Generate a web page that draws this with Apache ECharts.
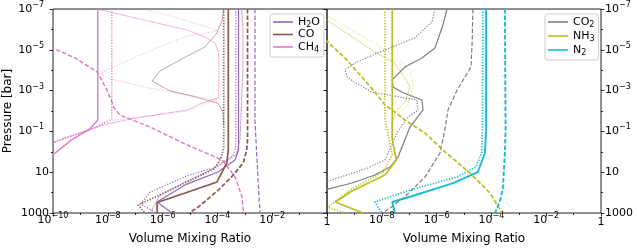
<!DOCTYPE html>
<html><head><meta charset="utf-8">
<script src="https://cdn.jsdelivr.net/npm/echarts@6/dist/echarts.min.js"></script>
<style>html,body{margin:0;padding:0;background:#fff}#c{width:639px;height:250px}</style>
</head><body><div id="c"></div>
<script>
// ---- data: [volume mixing ratio, pressure (bar)] ----
// left panel
const h2oSolid = [[5.9e-4,1e-7],[5.9e-4,0.82],[4.4e-4,2.5],[1.05e-4,9.8],[6.6e-6,42],[6.3e-7,290],[2.2e-6,1000]];
const h2oDotted = [[4.7e-4,1e-7],[4.7e-4,0.52],[3.7e-4,1.6],[6.9e-5,6.2],[7.8e-6,15],[3.5e-7,94],[1.6e-7,360],[5.7e-7,1000]];
const h2oDashed = [[2.35e-3,1e-7],[2.35e-3,2.8e-2],[2.7e-3,1.15],[3.4e-3,320],[3.6e-3,1000]];
const h2oSolidAlt = [[7.6e-4,1e-7],[8.6e-4,1.07e-6],[8.6e-4,9.8e-5],[7.6e-4,2.9e-3],[6.7e-4,0.26],[4.8e-4,1.4],[8.2e-5,6.2],[6.6e-6,30],[8.0e-7,131],[3.5e-7,1000]];

const coSolid = [[2.5e-4,1e-7],[2.5e-4,0.82],[2.2e-4,3.5],[9.7e-5,30],[6.6e-6,105],[6.3e-7,305],[6.3e-7,1000]];
const coDotted = [[1.7e-4,1e-7],[1.7e-4,0.65],[1.35e-4,2.0],[7.5e-5,7.0],[7.8e-6,30],[8.0e-7,131],[1.26e-7,405],[2.3e-7,1000]];
const coDashed = [[1.26e-3,1e-7],[1.26e-3,0.26],[1.17e-3,0.82],[8.8e-4,3.5],[3.3e-4,17],[1.08e-4,75],[2.0e-5,510],[9.2e-6,1000]];
const coSolidAlt = [[1.7e-4,1e-7],[1.5e-4,3.5e-7],[9.7e-5,1.5e-6],[3.5e-5,7.3e-6],[6.6e-6,2.3e-5],[8.0e-7,1.1e-4],[4.1e-7,3.4e-4],[1.9e-6,1.05e-3],[7.8e-6,1.6e-3],[1.05e-4,4.1e-3],[1.6e-4,1.1e-2],[1.7e-4,5e-2]];

const ch4Solid = [[4.3e-9,1e-7],[4.3e-9,2.8e-2],[2.2e-9,7.6e-2],[4.8e-10,0.26],[1.2e-10,1.15],[7.8e-11,1.8]];
const ch4Dotted = [[1.4e-8,1e-7],[1.4e-8,2.5e-2],[2.2e-9,8.5e-2],[1e-10,0.35],[6.6e-11,0.44]];
const ch4Dashed = [[7.8e-11,7.3e-6],[1e-10,8.4e-6],[6.4e-10,2.5e-5],[4.0e-9,1.2e-4],[9.4e-9,9.4e-4],[1.7e-8,7.1e-3],[2.8e-8,1.6e-2],[3.5e-7,6.1e-2],[7.8e-6,0.46],[1.5e-4,2.5],[4.4e-4,17],[7.9e-4,160],[9.0e-4,1000]];
const ch4SolidAlt = [[4.0e-9,1e-7],[7.8e-6,1.07e-6],[3.5e-5,2.4e-6],[8.2e-5,4.6e-6],[1.1e-4,1.3e-5],[1.14e-4,9.8e-5],[1.1e-4,2.3e-3],[2.3e-5,4.5e-3],[7.8e-6,8.9e-3],[6.5e-8,2.5e-2],[6.7e-9,4.9e-2],[3.2e-10,0.19],[1e-10,0.37],[6e-11,0.45]];
const ch4DottedAlt = [[1.9e-7,1e-7],[2.8e-6,2.5e-7],[4.2e-5,7.6e-7],[1.05e-4,1.2e-6],[7.8e-6,2.1e-6],[1.5e-7,1.8e-5],[5.2e-9,1.4e-4],[1.2e-8,2.7e-4],[3.5e-7,7.5e-4],[7.8e-6,1.6e-3],[9.7e-5,2.9e-3],[7.8e-6,1e-2],[1.8e-8,2.8e-2],[2.2e-9,8.5e-2],[1e-10,0.35]];

// right panel
const co2Solid = [[2.4e-6,1e-7],[1.7e-6,6.1e-7],[8.7e-7,8.2e-6],[2.9e-7,2.5e-5],[7.0e-8,7.0e-5],[2.4e-8,3.0e-4],[2.6e-8,6.7e-4],[5.5e-8,1.2e-3],[2.9e-7,2.9e-3],[3.2e-7,8.9e-3],[1.07e-7,6.1e-2],[3.9e-8,1.8],[2.0e-8,5.6],[5.6e-9,13.7],[8.2e-10,34],[1e-10,70],[5.6e-11,84]];
const co2Dotted = [[8.7e-7,1e-7],[6.8e-7,4.3e-7],[1.6e-7,2.6e-6],[7.3e-9,1.4e-5],[1.05e-9,4.4e-5],[4.5e-10,9.8e-5],[5.8e-10,2.4e-4],[4.4e-9,1.2e-3],[1.9e-7,2.9e-3],[2.1e-7,8.9e-3],[9.0e-8,2.0e-2],[3.6e-8,0.12],[1.3e-8,2.5],[3.1e-9,6.2],[1e-10,29],[5.6e-11,34]];
const co2Dashed = [[2.1e-5,1e-7],[2.0e-5,3.3e-6],[1.8e-5,7.0e-5],[5.6e-6,9.4e-4],[2.6e-6,8.9e-3],[2.0e-6,8.5e-2],[1.33e-6,1.15],[3.8e-7,17],[7.0e-8,160],[1.1e-8,1000]];

const nh3Solid = [[2.4e-8,1e-7],[2.4e-8,0.26],[3.4e-8,2.5],[1.3e-8,13.7],[8.2e-10,84],[2.0e-10,290],[2.1e-9,1000]];
const nh3Dotted = [[1.3e-8,1e-7],[1.3e-8,2.8e-2],[1.7e-8,0.15],[2.4e-8,1.4],[1.1e-8,9.8],[6.9e-10,75],[1.09e-10,510],[4.5e-10,1000]];
const nh3Dashed = [[5.6e-11,2.1e-6],[1e-10,3.9e-6],[4.5e-10,2.5e-5],[1.9e-9,2.2e-4],[5.6e-9,1.2e-3],[1.3e-8,5.1e-3],[2.4e-8,8.9e-3],[7.0e-8,2.8e-2],[3.8e-7,0.12],[1.7e-6,0.82],[1.65e-5,11],[8.9e-5,105],[2.1e-4,710],[2.4e-4,1000]];
const nh3SolidAlt = [[5.6e-11,2.2e-7],[1e-10,3.5e-7],[5.6e-9,1.3e-5],[3.0e-8,4.4e-5],[7.0e-8,2.4e-4],[1.07e-7,6.7e-4],[7.0e-8,3.6e-3],[3.0e-8,1.25e-2],[2.4e-8,4.9e-2],[2.4e-8,0.26]];
const nh3DottedAlt = [[5.6e-11,1.4e-7],[1e-10,2.2e-7],[7.3e-9,5.8e-6],[4.6e-8,3.2e-5],[1.07e-7,9.8e-5],[1.4e-7,5.3e-4],[9.0e-8,5.1e-3],[3.6e-8,1.6e-2],[1.55e-8,4.9e-2],[1.3e-8,0.1]];

const n2Solid = [[6.4e-5,1e-7],[6.4e-5,8.5e-2],[5.8e-5,1.15],[3.2e-5,9.8],[4.0e-6,34],[1.07e-7,160],[2.4e-8,290],[3.0e-8,1000]];
const n2Dotted = [[4.9e-5,1e-7],[4.7e-5,8.5e-2],[4.4e-5,1.15],[2.7e-5,5.6],[5.6e-6,17],[1.07e-7,75],[5.6e-9,290],[1.0e-8,1000]];
const n2Dashed = [[3.1e-4,1e-7],[3.3e-4,8.5e-2],[3.1e-4,1.15],[2.65e-4,53],[2.1e-4,230],[1.35e-4,1000]];

// ---- tick labels ----
const xTickExps = [-10,-8,-6,-4,-2,0];
const xTickLabels = [['10','−10'],['10','−8'],['10','−6'],['10','−4'],['10','−2'],['1','']];
const yTickExps = [-7,-5,-3,-1,1,3];
const yTickLabels = [['10','−7'],['10','−5'],['10','−3'],['10','−1'],['10',''],['1000','']];
const legendLeft = ['H2O','CO','CH4'];
const legendRight = ['CO2','NH3','N2'];
const legendText = {H2O:'{t|H}{s|2}{t|O}', CO:'{t|CO}', CH4:'{t|CH}{s|4}', CO2:'{t|CO}{s|2}', NH3:'{t|NH}{s|3}', N2:'{t|N}{s|2}'};

const C = {h2o:'#9467bd', co:'#8c564b', ch4:'#e377c2', co2:'#7f7f7f', nh3:'#bcbd22', n2:'#17becf'};
const W = {h2o:1.2, co:1.7, ch4:1.4, co2:1.2, nh3:1.7, n2:1.9};
const DASH = [4.5,2], DOT = [1.2,1.6];

const lines = [
  ['H2O', h2oSolid, 0, 'h2o', 'solid', false],
  ['H2O dotted', h2oDotted, 0, 'h2o', DOT, false],
  ['H2O dashed', h2oDashed, 0, 'h2o', DASH, false],
  ['H2O alt', h2oSolidAlt, 0, 'h2o', 'solid', true],
  ['CO', coSolid, 0, 'co', 'solid', false],
  ['CO dotted', coDotted, 0, 'co', DOT, false],
  ['CO dashed', coDashed, 0, 'co', DASH, false],
  ['CO alt', coSolidAlt, 0, 'co', 'solid', true],
  ['CH4', ch4Solid, 0, 'ch4', 'solid', false],
  ['CH4 dotted', ch4Dotted, 0, 'ch4', DOT, false],
  ['CH4 dashed', ch4Dashed, 0, 'ch4', DASH, false],
  ['CH4 alt', ch4SolidAlt, 0, 'ch4', 'solid', true],
  ['CH4 alt dotted', ch4DottedAlt, 0, 'ch4', DOT, true],
  ['CO2', co2Solid, 1, 'co2', 'solid', false],
  ['CO2 dotted', co2Dotted, 1, 'co2', DOT, false],
  ['CO2 dashed', co2Dashed, 1, 'co2', DASH, false],
  ['NH3', nh3Solid, 1, 'nh3', 'solid', false],
  ['NH3 dotted', nh3Dotted, 1, 'nh3', DOT, false],
  ['NH3 dashed', nh3Dashed, 1, 'nh3', DASH, false],
  ['NH3 alt', nh3SolidAlt, 1, 'nh3', 'solid', true],
  ['NH3 alt dotted', nh3DottedAlt, 1, 'nh3', DOT, true],
  ['N2', n2Solid, 1, 'n2', 'solid', false],
  ['N2 dotted', n2Dotted, 1, 'n2', DOT, false],
  ['N2 dashed', n2Dashed, 1, 'n2', DASH, false]
];

const FONT = 'DejaVu Sans';
const tickRich = {
  b: {fontFamily: FONT, fontSize: 11, lineHeight: 12, verticalAlign: 'middle', color: '#000'},
  bp: {fontFamily: FONT, fontSize: 11, lineHeight: 16, verticalAlign: 'middle', color: '#000'},
  s: {fontFamily: FONT, fontSize: 8, lineHeight: 8, verticalAlign: 'middle', color: '#000', padding: [0,0,8,0]},
  sp: {fontFamily: FONT, fontSize: 8, lineHeight: 8, verticalAlign: 'middle', color: '#000', padding: [0,5,8,0]}
};
function fmt(exps, labels, padSup) {
  return function (v) {
    const i = exps.indexOf(Math.round(v));
    if (i < 0) return '';
    const l = labels[i];
    return l[1] ? '{b|' + l[0] + '}{' + (padSup ? 'sp' : 's') + '|' + l[1] + '}' : '{bp|' + l[0] + '}';
  };
}
const tickLine = {color: '#000', width: 0.8};
function xAx(gi, showMin) {
  return {
    gridIndex: gi, type: 'value', position: 'bottom', min: -10, max: 0, interval: 2,
    axisLine: {show: false, onZero: false}, splitLine: {show: false},
    axisTick: {show: true, length: 3.5, lineStyle: tickLine},
    minorTick: {show: true, splitNumber: 2, length: 2, lineStyle: tickLine},
    axisLabel: {formatter: fmt(xTickExps, xTickLabels, false), rich: tickRich, margin: 1, showMinLabel: showMin, showMaxLabel: true},
    name: 'Volume Mixing Ratio', nameLocation: 'middle', nameGap: 19,
    nameTextStyle: {fontFamily: FONT, fontSize: 12, color: '#000'}
  };
}
function yAx(gi, pos, showLabels, name) {
  const o = {
    gridIndex: gi, type: 'value', position: pos, inverse: true, min: -7, max: 3, interval: 2,
    axisLine: {show: false, onZero: false}, splitLine: {show: false},
    axisTick: {show: true, length: 3.5, lineStyle: tickLine},
    minorTick: {show: true, splitNumber: 2, length: 2, lineStyle: tickLine},
    axisLabel: {show: showLabels, formatter: fmt(yTickExps, yTickLabels, pos === 'left'), rich: tickRich, margin: 4, showMinLabel: true, showMaxLabel: true}
  };
  if (name) {
    o.name = name; o.nameLocation = 'middle'; o.nameGap = 34; o.nameRotate = 90;
    o.nameTextStyle = {fontFamily: FONT, fontSize: 12, color: '#000'};
  }
  return o;
}

function legend(names, left) {
  return {
    data: names, orient: 'vertical', left: left, top: 14,
    icon: 'rect', itemWidth: 20, itemHeight: 1.6,
    padding: [1, 4, 3, 3], itemGap: 0,
    backgroundColor: 'rgba(255,255,255,0.85)', borderColor: '#cccccc', borderWidth: 1, borderRadius: 3,
    formatter: function (n) { return legendText[n]; },
    textStyle: {fontFamily: FONT, fontSize: 11, color: '#000',
      rich: {t: {fontFamily: FONT, fontSize: 11, lineHeight: 13, verticalAlign: 'middle', color: '#000'},
             s: {fontFamily: FONT, fontSize: 8, lineHeight: 7, verticalAlign: 'middle', color: '#000', padding: [6,0,0,0]}}}
  };
}

const option = {
  animation: false,
  backgroundColor: '#fff',
  textStyle: {fontFamily: FONT},
  grid: [
    {left: 53, right: 312, top: 9, bottom: 37, show: true, borderColor: '#222', borderWidth: 1, backgroundColor: 'transparent'},
    {left: 327, right: 38, top: 9, bottom: 37, show: true, borderColor: '#222', borderWidth: 1, backgroundColor: 'transparent'}
  ],
  xAxis: [xAx(0, true), xAx(1, false)],
  yAxis: [yAx(0, 'left', true, 'Pressure [bar]'), yAx(1, 'right', true, null), yAx(1, 'left', false, null)],
  legend: [legend(legendLeft, 270), legend(legendRight, 545)],
  series: lines.map(function (l) {
    const col = C[l[3]];
    return {
      type: 'line', name: l[0], xAxisIndex: l[2], yAxisIndex: l[2],
      data: l[1].map(function (d) { return [Math.log10(d[0]), Math.log10(d[1])]; }),
      symbol: 'none', silent: true, clip: true,
      itemStyle: {color: col},
      lineStyle: {color: col, width: l[5] ? 0.9 : W[l[3]], type: l[4], opacity: l[5] ? 0.6 : 1},
      z: l[5] ? 1 : 2
    };
  })
};
const chart = echarts.init(document.getElementById('c'), null, {renderer: 'canvas'});
chart.setOption(option);
</script>
</body></html>
